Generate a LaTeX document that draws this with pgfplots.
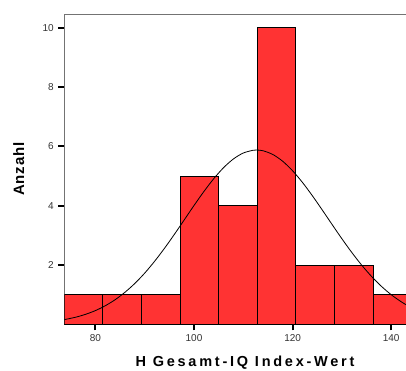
\documentclass[border=0pt]{standalone}
\usepackage{fontspec}
\setmainfont{Liberation Sans}
\usepackage{pgfplots}
\pgfplotsset{compat=1.18}
\definecolor{barred}{RGB}{255,51,51}
\begin{document}
\begin{tikzpicture}
\useasboundingbox (-64.3pt,-46.7pt) rectangle (341.7pt,324.3pt);
\begin{axis}[
  at={(0pt,0pt)}, anchor=south west,
  scale only axis, width=341.7pt, height=310.3pt,
  xmin=73.7, xmax=143.0, ymin=0, ymax=10.47,
  axis lines*=left,
  x axis line style={black, line width=0.9pt},
  y axis line style={black!55, line width=0.8pt},
  xtick={80,100,120,140}, ytick={2,4,6,8,10},
  tick align=outside,
  major tick length=6pt,
  tick style={black, line width=2pt},
  ticklabel style={font=\fontsize{10}{12}\selectfont, text=black!80},
  /pgf/number format/assume math mode=true,
  xticklabel style={yshift=-1pt},
  yticklabel style={xshift=-1pt},
]
\addplot[ybar interval, fill=barred, draw=black, line width=0.9pt]
  coordinates {(73.7,1) (81.53,1) (89.36,1) (97.19,5) (105.02,4) (112.85,10) (120.68,2) (128.51,2) (136.34,1) (144.17,1)};
\addplot[smooth, black, line width=0.8pt] coordinates {
(73.7,0.158) (76,0.239) (78,0.336) (80,0.462) (82,0.625) (84,0.829) (86,1.080) (88,1.378)
(90,1.726) (92,2.123) (94,2.560) (96,3.029) (98,3.517) (100,4.007) (102,4.478) (104,4.911)
(106,5.285) (108,5.579) (110,5.779) (112,5.873) (112.7,5.88) (114,5.856) (116,5.729) (118,5.500)
(120,5.180) (122,4.787) (124,4.340) (126,3.861) (128,3.370) (130,2.886) (132,2.425) (134,1.999)
(136,1.617) (138,1.283) (140,0.999) (142,0.763) (143.3,0.634)};
\draw[black!55, line width=0.8pt] (rel axis cs:0,1) -- (rel axis cs:1,1);
\end{axis}
\node[font=\bfseries\fontsize{14.5}{17}\selectfont\addfontfeature{LetterSpace=19}] at (180.7pt,-38.7pt) {H Gesamt-IQ Index-Wert};
\node[font=\bfseries\fontsize{15}{18}\selectfont\addfontfeature{LetterSpace=6}, rotate=90] at (-45.5pt,155.3pt) {Anzahl};
\end{tikzpicture}
\end{document}
